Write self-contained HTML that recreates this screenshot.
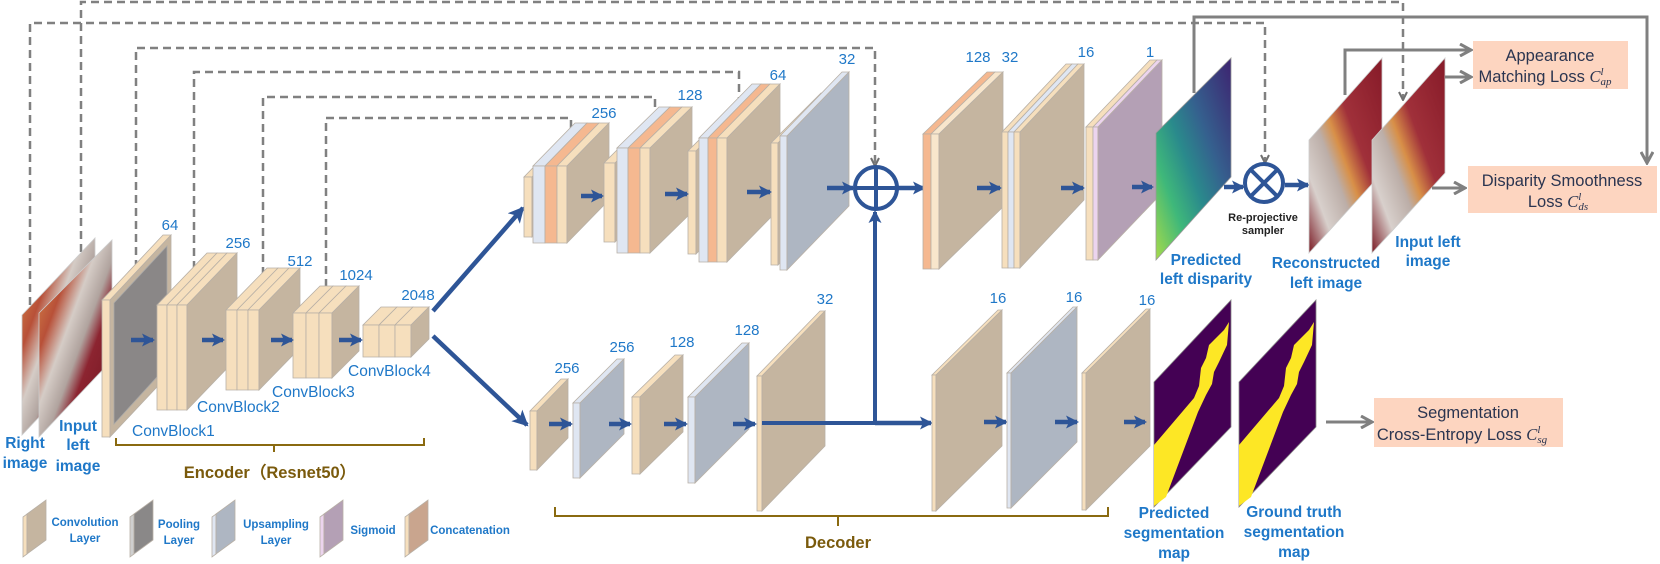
<!DOCTYPE html>
<html><head><meta charset="utf-8"><style>
html,body{margin:0;padding:0;background:#fff;width:1660px;height:564px;overflow:hidden}
svg{display:block}
.n{font-family:"Liberation Sans",sans-serif;font-size:15px;fill:#1f78c8;text-anchor:middle}
.cb{font-family:"Liberation Sans",sans-serif;font-size:15.5px;fill:#1f78c8}
.bl{font-family:"Liberation Sans",sans-serif;font-size:15.5px;font-weight:bold;fill:#1f78c8;text-anchor:middle}
.lg{font-family:"Liberation Sans",sans-serif;font-size:11.5px;font-weight:bold;fill:#1f78c8;text-anchor:middle}
.br{font-family:"Liberation Sans",sans-serif;font-size:16.5px;font-weight:bold;fill:#7a5a0c;text-anchor:middle}
.ls{font-family:"Liberation Sans",sans-serif;font-size:16.5px;fill:#2b3550;text-anchor:middle}
.cm{font-family:"Liberation Serif",serif;font-style:italic}
.rp{font-family:"Liberation Sans",sans-serif;font-size:11px;font-weight:bold;fill:#222;text-anchor:middle}
</style></head><body>
<svg id="s" width="1660" height="564" viewBox="0 0 1660 564" xmlns="http://www.w3.org/2000/svg">
<defs>
<marker id="ab" markerWidth="13" markerHeight="13" refX="11" refY="6.5" orient="auto" markerUnits="userSpaceOnUse"><path d="M0,0 L13,6.5 L0,13 L3,6.5 z" fill="#2e5597"/></marker>
<marker id="ab2" markerWidth="16" markerHeight="16" refX="14" refY="8" orient="auto" markerUnits="userSpaceOnUse"><path d="M0,0 L16,8 L0,16 L4,8 z" fill="#2e5597"/></marker>
<marker id="ag" markerWidth="14" markerHeight="14" refX="12" refY="7" orient="auto" markerUnits="userSpaceOnUse"><path d="M1,1 L12,7 L1,13" fill="none" stroke="#808080" stroke-width="3"/></marker>
<marker id="agd" markerWidth="10" markerHeight="10" refX="9" refY="5" orient="auto" markerUnits="userSpaceOnUse"><path d="M1,1 L9,5 L1,9" fill="none" stroke="#707070" stroke-width="2"/></marker>
<linearGradient id="surg" x1="0" y1="0" x2="1" y2="1">
<stop offset="0" stop-color="#e09a50"/><stop offset="0.28" stop-color="#b85038"/><stop offset="0.42" stop-color="#d5ccc6"/><stop offset="0.55" stop-color="#b0a39e"/><stop offset="0.65" stop-color="#8c2430"/><stop offset="1" stop-color="#6e1420"/>
</linearGradient>
<linearGradient id="surg2" x1="0" y1="1" x2="1" y2="0">
<stop offset="0" stop-color="#7a1a24"/><stop offset="0.2" stop-color="#d8d0cc"/><stop offset="0.38" stop-color="#bcaea8"/><stop offset="0.48" stop-color="#d89048"/><stop offset="0.62" stop-color="#a0303a"/><stop offset="1" stop-color="#861a28"/>
</linearGradient>
<linearGradient id="disp" x1="0" y1="1" x2="1" y2="0">
<stop offset="0" stop-color="#a6db4a"/><stop offset="0.25" stop-color="#3fb87a"/><stop offset="0.45" stop-color="#2a8a8c"/><stop offset="0.65" stop-color="#35608e"/><stop offset="1" stop-color="#3d2370"/>
</linearGradient>
</defs>
<g id="dash" fill="none" stroke="#808080" stroke-width="2.5" stroke-dasharray="8,5">
<path d="M81,265 V2 H1403 V100" marker-end="url(#agd)"/>
<path d="M30,305 V23 H1265 V163" marker-end="url(#agd)"/>
<path d="M136,268 V48 H875 V166" marker-end="url(#agd)"/>
<path d="M194,282 V72 H739 V112" marker-end="url(#agd)"/>
<path d="M263,288 V97 H655 V131" marker-end="url(#agd)"/>
<path d="M326,300 V118 H571 V144" marker-end="url(#agd)"/>
</g>
<g id="shapes"></g>
<g fill="none" stroke="#808080" stroke-width="3">
<path d="M1194,93 V17 H1647 V163" marker-end="url(#ag)"/>
<path d="M1345,95 V50 H1471" marker-end="url(#ag)"/>
<path d="M1445,77 H1471" marker-end="url(#ag)"/>
<path d="M1432,188 H1465" marker-end="url(#ag)"/>
<path d="M1326,422 H1372" marker-end="url(#ag)"/>
</g>
<rect x="1473" y="41" width="155" height="48" fill="#fdd5c0"/>
<text class="ls" x="1550" y="61">Appearance</text>
<text class="ls" x="1545" y="82">Matching Loss <tspan class="cm">C</tspan><tspan class="cm" font-size="11" dy="-7">l</tspan><tspan class="cm" font-size="11" dx="-3" dy="10">ap</tspan></text>
<rect x="1468" y="166" width="189" height="47" fill="#fdd5c0"/>
<text class="ls" x="1562" y="186">Disparity Smoothness</text>
<text class="ls" x="1558" y="207">Loss <tspan class="cm">C</tspan><tspan class="cm" font-size="11" dy="-7">l</tspan><tspan class="cm" font-size="11" dx="-3" dy="10">ds</tspan></text>
<rect x="1374" y="398" width="189" height="49" fill="#fdd5c0"/>
<text class="ls" x="1468" y="418">Segmentation</text>
<text class="ls" x="1462" y="440">Cross-Entropy Loss <tspan class="cm">C</tspan><tspan class="cm" font-size="11" dy="-7">l</tspan><tspan class="cm" font-size="11" dx="-3" dy="10">sg</tspan></text>
<text class="n" x="170" y="230">64</text>
<text class="n" x="238" y="248">256</text>
<text class="n" x="300" y="266">512</text>
<text class="n" x="356" y="280">1024</text>
<text class="n" x="418" y="300">2048</text>
<text class="n" x="604" y="118">256</text>
<text class="n" x="690" y="100">128</text>
<text class="n" x="778" y="80">64</text>
<text class="n" x="847" y="64">32</text>
<text class="n" x="978" y="62">128</text>
<text class="n" x="1010" y="62">32</text>
<text class="n" x="1086" y="57">16</text>
<text class="n" x="1150" y="57">1</text>
<text class="n" x="567" y="373">256</text>
<text class="n" x="622" y="352">256</text>
<text class="n" x="682" y="347">128</text>
<text class="n" x="747" y="335">128</text>
<text class="n" x="825" y="304">32</text>
<text class="n" x="998" y="303">16</text>
<text class="n" x="1074" y="302">16</text>
<text class="n" x="1147" y="305">16</text>
<text class="cb" x="132" y="436">ConvBlock1</text>
<text class="cb" x="197" y="412">ConvBlock2</text>
<text class="cb" x="272" y="397">ConvBlock3</text>
<text class="cb" x="348" y="376">ConvBlock4</text>
<text class="bl" x="25" y="448">Right</text><text class="bl" x="25" y="468">image</text>
<text class="bl" x="78" y="431">Input</text><text class="bl" x="78" y="450">left</text><text class="bl" x="78" y="471">image</text>
<text class="bl" x="1206" y="265">Predicted</text><text class="bl" x="1206" y="284">left disparity</text>
<text class="bl" x="1326" y="268">Reconstructed</text><text class="bl" x="1326" y="288">left image</text>
<text class="bl" x="1428" y="247">Input left</text><text class="bl" x="1428" y="266">image</text>
<text class="bl" x="1174" y="518">Predicted</text><text class="bl" x="1174" y="538">segmentation</text><text class="bl" x="1174" y="558">map</text>
<text class="bl" x="1294" y="517">Ground truth</text><text class="bl" x="1294" y="537">segmentation</text><text class="bl" x="1294" y="557">map</text>
<text class="rp" x="1263" y="221">Re-projective</text><text class="rp" x="1263" y="234">sampler</text>
<path d="M116,438 V445 H424 V438 M274,445 V452" fill="none" stroke="#8a6a10" stroke-width="2"/>
<text class="br" x="270" y="478">Encoder（Resnet50）</text>
<path d="M555,507 V516 H1108 V507 M838,516 V526" fill="none" stroke="#8a6a10" stroke-width="2"/>
<text class="br" x="838" y="548">Decoder</text>
<text class="lg" x="85" y="526">Convolution</text><text class="lg" x="85" y="542">Layer</text>
<text class="lg" x="179" y="528">Pooling</text><text class="lg" x="179" y="544">Layer</text>
<text class="lg" x="276" y="528">Upsampling</text><text class="lg" x="276" y="544">Layer</text>
<text class="lg" x="373" y="534">Sigmoid</text>
<text class="lg" x="470" y="534">Concatenation</text>
</svg>
<script>
(function(){
var NS="http://www.w3.org/2000/svg",G=document.getElementById("shapes");
function el(t,a){var e=document.createElementNS(NS,t);for(var k in a)e.setAttribute(k,a[k]);G.appendChild(e);return e;}
function poly(p,f,s){return el("polygon",{points:p.map(function(q){return q.join(",")}).join(" "),fill:f,stroke:s||"#b8b0a6","stroke-width":0.8});}
var C={cf:"#f6dfbd",cs:"#c5b5a0",uf:"#dfe6f2",us:"#aeb6c2",of:"#f5b890",os:"#c9a58e",sf:"#ecd4ee",ss:"#b4a0b5",ps:"#8a8888"};
function stack(x,yt,yb,ws,fs,dx,dy,side){
  var cx=x;
  for(var i=0;i<ws.length;i++){
    var w=ws[i];
    poly([[cx,yt],[cx+w,yt],[cx+w+dx,yt-dy],[cx+dx,yt-dy]],fs[i]);
    poly([[cx,yt],[cx+w,yt],[cx+w,yb],[cx,yb]],fs[i]);
    cx+=w;
  }
  poly([[cx,yt],[cx+dx,yt-dy],[cx+dx,yb-dy],[cx,yb]],side);
}
function arr(x1,y1,x2,y2,w,m){el("line",{x1:x1,y1:y1,x2:x2,y2:y2,stroke:"#2e5597","stroke-width":w||4.5,"marker-end":"url(#"+(m||"ab")+")"});}
poly([[22,315],[95,238],[95,358],[22,435]],"url(#surg)","#ccc");
poly([[39,313],[112,240],[112,360],[39,437]],"url(#surg)","#ccc");
stack(102,300,437,[8],[C.cf],61,65,C.cs);
poly([[114,303],[167,246],[167,366],[114,424]],"#8a8787","#a8a8a8");
stack(157,305,410,[10,10,10],[C.cf,C.cf,C.cf],50,52,C.cs);
stack(226,310,390,[11,11,11],[C.cf,C.cf,C.cf],41,42,C.cs);
stack(293,313,378,[13,13,13],[C.cf,C.cf,C.cf],27,27,C.cs);
stack(363,325,357,[16,16,16],[C.cf,C.cf,C.cf],18,18,C.cs);
arr(131,340,153,340);arr(202,340,223,340);arr(271,340,292,340);arr(339,340,361,340);
arr(433,311,523,208,4.5,"ab2");arr(433,336,527,425,4.5,"ab2");
stack(524,177,237,[8],[C.cf],30,31,C.cs);
stack(533,166,243,[12,12,10],[C.uf,C.of,C.cf],42,43,C.cs);
stack(604,163,242,[11],[C.cf],30,30,C.cs);
stack(617,148,253,[11,12,10],[C.uf,C.of,C.cf],42,41,C.cs);
stack(688,151,254,[8],[C.cf],40,40,C.cs);
stack(699,138,262,[9,9,10],[C.uf,C.of,C.cf],53,54,C.cs);
stack(771,143,265,[7],[C.cf],50,50,C.cs);
stack(780,136,270,[7],[C.uf],62,64,C.us);
arr(581,196,602,196);arr(665,194,687,194);arr(747,192,770,192);arr(827,188,853,188);
arr(898,188,924,188);
arr(875,423,875,212,4,"ab");
stack(923,134,269,[8,8],[C.of,"#f8e6cc"],64,62,C.cs);
arr(977,188,1000,188);
stack(1002,132,268,[6,6,6],[C.cf,C.uf,C.cf],64,68,C.cs);
arr(1061,188,1083,188);
stack(1086,127,260,[7,5],[C.cf,C.sf],64,67,C.ss);
arr(1132,187,1152,187);
poly([[1156,133],[1231,58],[1231,177],[1156,260]],"url(#disp)","#999");
arr(1224,187,1243,187);
el("circle",{cx:1264,cy:183,r:19,fill:"#fff",stroke:"#2e5597","stroke-width":4});
el("path",{d:"M1251,170 L1277,196 M1277,170 L1251,196",stroke:"#2e5597","stroke-width":4});
arr(1285,185,1308,185);
poly([[1309,140],[1382,58],[1382,173],[1309,253]],"url(#surg2)","#ccc");
poly([[1372,140],[1445,58],[1445,173],[1372,253]],"url(#surg2)","#ccc");
el("circle",{cx:876,cy:188,r:21,fill:"#fff",stroke:"#2e5597","stroke-width":4});
el("path",{d:"M855,188 H897 M876,167 V209",stroke:"#2e5597","stroke-width":4});
stack(530,411,470,[7],[C.cf],31,32,C.cs);
stack(573,403,478,[7],[C.uf],44,44,C.us);
stack(632,397,474,[8],[C.cf],43,42,C.cs);
stack(688,397,483,[7],[C.uf],54,54,C.us);
stack(757,376,511,[5],[C.cf],63,65,C.cs);
arr(549,424,571,424);arr(609,424,630,424);arr(664,424,686,424);arr(733,424,755,424);
el("line",{x1:762,y1:423,x2:877,y2:423,stroke:"#2e5597","stroke-width":4});
arr(875,423,931,423);
stack(932,375,511,[4],[C.cf],66,65,C.cs);
arr(984,422,1006,422);
stack(1007,373,508,[4],[C.uf],66,66,C.us);
arr(1055,422,1077,422);
stack(1082,373,510,[4],[C.cf],64,64,C.cs);
arr(1124,422,1145,422);
[1154,1239].forEach(function(x){
  poly([[x,382],[x+77,300],[x+77,427],[x,507]],"#440154","#888");
  poly([[x,445],[x+40,398],[x+45,386],[x+47,368],[x+52,358],[x+55,345],[x+60,340],[x+70,330],[x+75,322],[x+73,345],[x+65,362],[x+60,372],[x+58,384],[x+52,395],[x+44,412],[x+12,497],[x,506]],"#fde725","none");
});
function leg(x,f,s){poly([[x,517],[x+4,514],[x+4,554],[x,557]],f);poly([[x+4,514],[x+23,500],[x+23,540],[x+4,554]],s);}
leg(23,C.cf,C.cs);leg(130,"#cfcfcf",C.ps);leg(212,C.uf,C.us);leg(320,C.sf,C.ss);leg(405,"#f6dfbd","#c9a58e");
})();
</script>
</body></html>
